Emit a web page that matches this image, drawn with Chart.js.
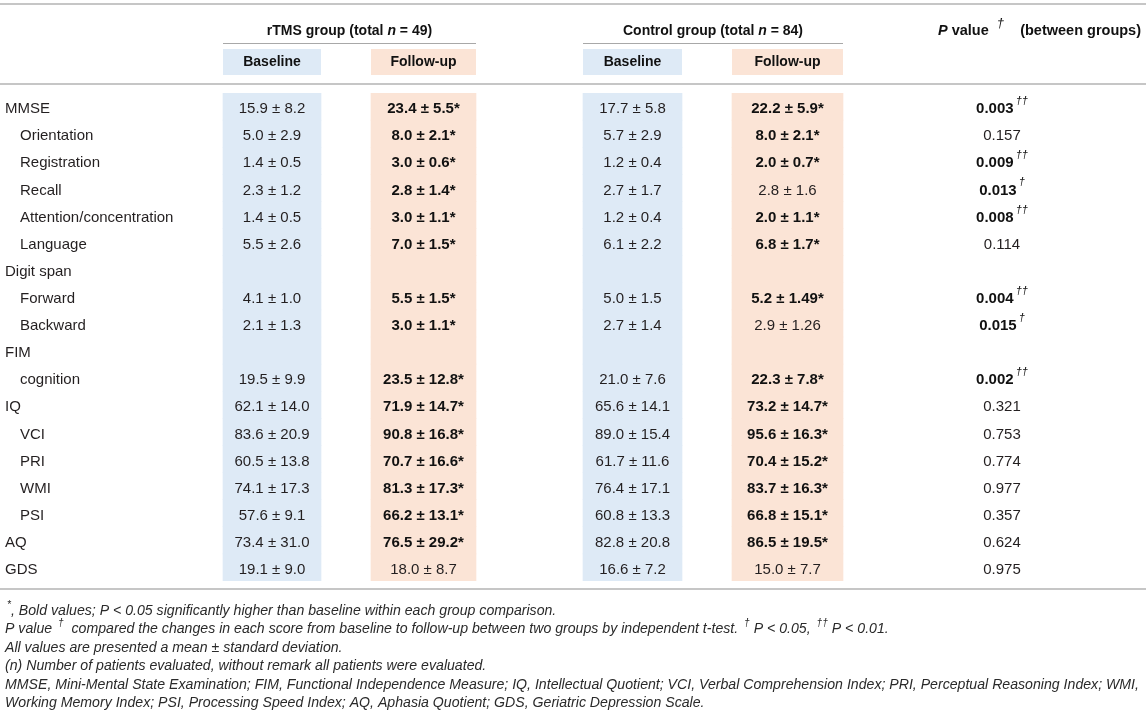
<!DOCTYPE html>
<html><head><meta charset="utf-8">
<script src="https://cdn.jsdelivr.net/npm/chart.js@4.4.0/dist/chart.umd.min.js"></script>
<style>html,body{margin:0;padding:0;background:#fff;}canvas{display:block}</style>
</head><body>
<canvas id="c" width="1146" height="726"></canvas>
<script>
// ---------------- DATA ----------------
const rowLabels = ['MMSE','Orientation','Registration','Recall','Attention/concentration','Language',
  'Digit span','Forward','Backward','FIM','cognition','IQ','VCI','PRI','WMI','PSI','AQ','GDS'];
const rowIndent = [0,1,1,1,1,1,0,1,1,0,1,0,1,1,1,1,0,0];
const rtmsBaseline = ['15.9 ± 8.2','5.0 ± 2.9','1.4 ± 0.5','2.3 ± 1.2','1.4 ± 0.5','5.5 ± 2.6','',
  '4.1 ± 1.0','2.1 ± 1.3','','19.5 ± 9.9','62.1 ± 14.0','83.6 ± 20.9','60.5 ± 13.8','74.1 ± 17.3',
  '57.6 ± 9.1','73.4 ± 31.0','19.1 ± 9.0'];
const rtmsFollowUp = ['23.4 ± 5.5*','8.0 ± 2.1*','3.0 ± 0.6*','2.8 ± 1.4*','3.0 ± 1.1*','7.0 ± 1.5*','',
  '5.5 ± 1.5*','3.0 ± 1.1*','','23.5 ± 12.8*','71.9 ± 14.7*','90.8 ± 16.8*','70.7 ± 16.6*','81.3 ± 17.3*',
  '66.2 ± 13.1*','76.5 ± 29.2*','18.0 ± 8.7'];
const controlBaseline = ['17.7 ± 5.8','5.7 ± 2.9','1.2 ± 0.4','2.7 ± 1.7','1.2 ± 0.4','6.1 ± 2.2','',
  '5.0 ± 1.5','2.7 ± 1.4','','21.0 ± 7.6','65.6 ± 14.1','89.0 ± 15.4','61.7 ± 11.6','76.4 ± 17.1',
  '60.8 ± 13.3','82.8 ± 20.8','16.6 ± 7.2'];
const controlFollowUp = ['22.2 ± 5.9*','8.0 ± 2.1*','2.0 ± 0.7*','2.8 ± 1.6','2.0 ± 1.1*','6.8 ± 1.7*','',
  '5.2 ± 1.49*','2.9 ± 1.26','','22.3 ± 7.8*','73.2 ± 14.7*','95.6 ± 16.3*','70.4 ± 15.2*','83.7 ± 16.3*',
  '66.8 ± 15.1*','86.5 ± 19.5*','15.0 ± 7.7'];
const pValues = ['0.003','0.157','0.009','0.013','0.008','0.114','','0.004','0.015','','0.002',
  '0.321','0.753','0.774','0.977','0.357','0.624','0.975'];
const pMarks = ['††','','††','†','††','','','††','†','','††','','','','','','',''];
const groupNames = ['rTMS group','Control group'];
const groupTotals = [49, 84];
const subHeaders = ['Baseline','Follow-up','Baseline','Follow-up'];
const footnoteLines = [
  [['sup','*'],['txt',', Bold values; P < 0.05 significantly higher than baseline within each group comparison.']],
  [['txt','P value '],['sup','†'],['txt','  compared the changes in each score from baseline to follow-up between two groups by independent t-test. '],['sup','†'],['txt',' P < 0.05, '],['sup','††'],['txt',' P < 0.01.']],
  [['txt','All values are presented a mean ± standard deviation.']],
  [['txt','(n) Number of patients evaluated, without remark all patients were evaluated.']],
  [['txt','MMSE, Mini-Mental State Examination; FIM, Functional Independence Measure; IQ, Intellectual Quotient; VCI, Verbal Comprehension Index; PRI, Perceptual Reasoning Index; WMI,']],
  [['txt','Working Memory Index; PSI, Processing Speed Index; AQ, Aphasia Quotient; GDS, Geriatric Depression Scale.']]
];

// ---------------- LAYOUT / STYLE (options) ----------------
const BLUE = '#deeaf6', ORANGE = '#fbe4d6';
const FONT = '"Liberation Sans", Arial, Helvetica, sans-serif';
const LAYOUT = {
  cols: [ {x0:223, x1:321, color:BLUE}, {x0:371, x1:476, color:ORANGE},
          {x0:583, x1:682, color:BLUE}, {x0:732, x1:843, color:ORANGE} ],
  pCenter: 1002,
  pHeaderRight: 1141,
  labelX: 5, indentX: 20,
  bodySize: 15, textDy: 2.5,
  topRule: 4, groupTextY: 31, groupLineY: 43.5, boxTop: 49, boxBottom: 75, subTextY: 62,
  headRule: 84, bottomRule: 589,
  footY0: 611, footStep: 18.4, footX: 5, footFitLine: 4, footFitWidth: 1135,
  ruleColor: '#c6c6c6', thinRule: '#a8a8a8', text: '#231f20', footColor: '#2a2a2a'
};
const columnsText = [rtmsBaseline, rtmsFollowUp, controlBaseline, controlFollowUp];

function drawRuns(ctx, runs, x, y, align) {
  let total = 0;
  runs.forEach(r => { ctx.font = r.font; r.w = ctx.measureText(r.t).width + (r.dx || 0); total += r.w; });
  let cx = align === 'center' ? x - total / 2 : (align === 'right' ? x - total : x);
  ctx.textAlign = 'left';
  runs.forEach(r => {
    ctx.font = r.font;
    ctx.fillText(r.t, cx + (r.dx || 0), y + (r.dy || 0));
    cx += r.w;
  });
}

const tablePlugin = {
  id: 'tableText',
  afterDatasetsDraw(chart) {
    const ctx = chart.ctx, xs = chart.scales.x, ys = chart.scales.y, L = LAYOUT;
    const B = L.bodySize;
    ctx.save();
    ctx.textBaseline = 'middle';
    const hline = (y, x0, x1, w, c) => { ctx.fillStyle = c; ctx.fillRect(x0, y - w / 2, x1 - x0, w); };
    const left = xs.getPixelForValue(0), right = xs.getPixelForValue(1146);
    hline(L.topRule, left, right, 2, L.ruleColor);
    hline(L.headRule, left, right, 2, L.ruleColor);
    hline(L.bottomRule, left, right, 2, L.ruleColor);
    // group headers
    for (let g = 0; g < 2; g++) {
      const a = L.cols[g * 2], b = L.cols[g * 2 + 1];
      const x0 = xs.getPixelForValue(a.x0), x1 = xs.getPixelForValue(b.x1);
      hline(L.groupLineY, x0, x1, 1, L.thinRule);
      ctx.fillStyle = '#111';
      drawRuns(ctx, [
        {t: groupNames[g] + ' (total ', font: 'bold 14px ' + FONT},
        {t: 'n', font: 'italic bold 14px ' + FONT},
        {t: ' = ' + groupTotals[g] + ')', font: 'bold 14px ' + FONT}
      ], (x0 + x1) / 2, L.groupTextY, 'center');
    }
    // sub header boxes
    L.cols.forEach((c, i) => {
      const x0 = xs.getPixelForValue(c.x0), x1 = xs.getPixelForValue(c.x1);
      ctx.fillStyle = c.color;
      ctx.fillRect(x0, L.boxTop, x1 - x0, L.boxBottom - L.boxTop);
      ctx.fillStyle = '#111';
      drawRuns(ctx, [{t: subHeaders[i], font: 'bold 14px ' + FONT}], (x0 + x1) / 2, L.subTextY, 'center');
    });
    // P value header
    ctx.fillStyle = '#111';
    drawRuns(ctx, [
      {t: 'P', font: 'italic bold 14.5px ' + FONT},
      {t: ' value  ', font: 'bold 14.5px ' + FONT},
      {t: '†', font: 'italic 13px ' + FONT, dy: -8},
      {t: '    (between groups)', font: 'bold 14.5px ' + FONT}
    ], xs.getPixelForValue(L.pHeaderRight), L.groupTextY, 'right');
    // body
    rowLabels.forEach((lab, i) => {
      const y = ys.getPixelForValue(i) + L.textDy;
      ctx.fillStyle = L.text;
      drawRuns(ctx, [{t: lab, font: B + 'px ' + FONT}],
        xs.getPixelForValue(rowIndent[i] ? L.indentX : L.labelX), y, 'left');
      columnsText.forEach((arr, c) => {
        const s = arr[i];
        if (!s) return;
        const col = L.cols[c];
        const cx = (xs.getPixelForValue(col.x0) + xs.getPixelForValue(col.x1)) / 2;
        const bold = s.endsWith('*');
        ctx.fillStyle = bold ? '#111' : L.text;
        drawRuns(ctx, [{t: s, font: (bold ? 'bold ' : '') + B + 'px ' + FONT}], cx, y, 'center');
      });
      if (pValues[i]) {
        const mark = pMarks[i];
        const runs = [{t: pValues[i], font: (mark ? 'bold ' : '') + B + 'px ' + FONT}];
        if (mark) runs.push({t: mark, font: 'italic 11px ' + FONT, dy: -8, dx: 2});
        ctx.fillStyle = mark ? '#111' : L.text;
        drawRuns(ctx, runs, xs.getPixelForValue(L.pCenter), y, 'center');
      }
    });
    // footnotes: size fitted so the longest line spans the page width
    ctx.font = 'italic 12px ' + FONT;
    const w12 = ctx.measureText(footnoteLines[L.footFitLine].map(r => r[1]).join('')).width;
    const fs = 12 * L.footFitWidth / w12;
    ctx.fillStyle = L.footColor;
    footnoteLines.forEach((line, k) => {
      const runs = line.map(([kind, t]) => kind === 'sup'
        ? {t, font: 'italic ' + (fs * 0.72).toFixed(2) + 'px ' + FONT, dy: -6, dx: 2}
        : {t, font: 'italic ' + fs.toFixed(2) + 'px ' + FONT});
      drawRuns(ctx, runs, xs.getPixelForValue(L.footX), L.footY0 + k * L.footStep, 'left');
    });
    ctx.restore();
  }
};

const datasets = LAYOUT.cols.map((c, i) => ({
  label: subHeaders[i],
  data: rowLabels.map(() => [c.x0, c.x1]),
  backgroundColor: c.color,
  borderWidth: 0,
  categoryPercentage: 1,
  barPercentage: 1,
  grouped: false
}));

new Chart(document.getElementById('c').getContext('2d'), {
  type: 'bar',
  data: { labels: rowLabels, datasets },
  options: {
    indexAxis: 'y',
    responsive: false,
    animation: false,
    layout: { padding: { top: 93, bottom: 145, left: 0, right: 0 } },
    scales: {
      x: { type: 'linear', min: 0, max: 1146, display: false },
      y: { type: 'category', display: false, offset: true }
    },
    plugins: { legend: { display: false }, tooltip: { enabled: false } },
    events: []
  },
  plugins: [tablePlugin]
});
</script>
</body></html>
